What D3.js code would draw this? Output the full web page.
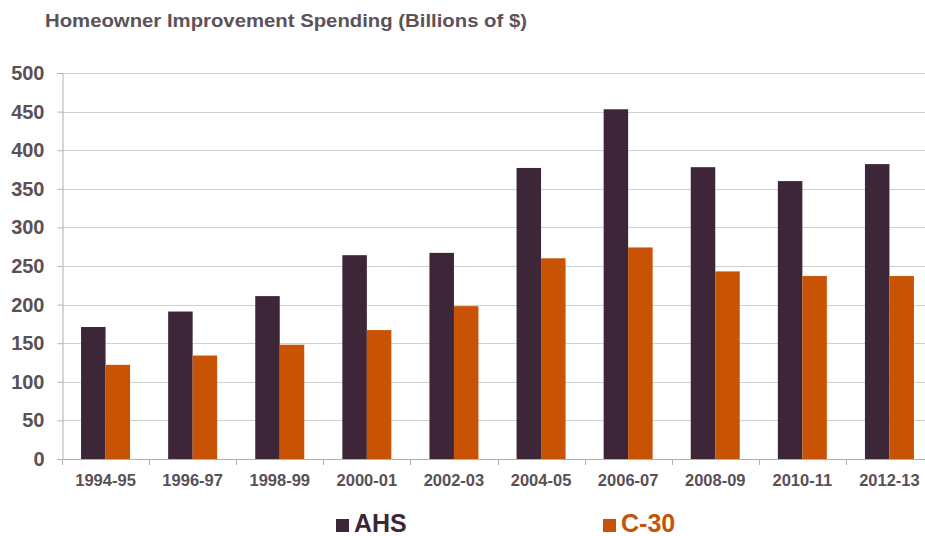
<!DOCTYPE html>
<html>
<head>
<meta charset="utf-8">
<script src="https://cdn.jsdelivr.net/npm/d3@7"></script>
<style>
	body { margin: 0; background: #fff; }
	text { font-family: "Liberation Sans", Arial, sans-serif; font-weight: bold; }
</style>
</head>
<body>
<svg class="chart"></svg>
<script>
var periods = ["1994-95", "1996-97", "1998-99", "2000-01", "2002-03", "2004-05", "2006-07", "2008-09", "2010-11", "2012-13"]
var ahs = [171, 191, 211, 264, 267, 377, 453, 378, 360, 382]
var c30 = [122, 134, 148, 167, 198, 260, 274, 243, 237, 237]
var yTicks = [0, 50, 100, 150, 200, 250, 300, 350, 400, 450, 500]
var seriesNames = ["AHS", "C-30"]
var seriesColors = ["#3e2639", "#c85305"]

var width = 925
var height = 536
var plotLeft = 62
var plotTop = 73
var plotBottom = 459

var svg = d3.select(".chart").attr("width", width).attr("height", height)

var data = periods.map(function (p, i) {
	return { period: p, values: [ahs[i], c30[i]] }
})

var xScale = d3.scaleBand().domain(periods).range([plotLeft, plotLeft + 871]).padding(0)
var bw = xScale.bandwidth()
var xInner = d3.scaleBand().domain(seriesNames).range([bw / 2 - 24.5, bw / 2 + 24.5]).padding(0)
var yScale = d3.scaleLinear().domain([0, 500]).range([plotBottom, plotTop])

// title
svg.append("text")
	.attr("x", 45)
	.attr("y", 27)
	.attr("font-size", 18)
	.attr("fill", "#5c5359")
	.attr("textLength", 482)
	.attr("lengthAdjust", "spacingAndGlyphs")
	.text("Homeowner Improvement Spending (Billions of $)")

// gridlines
svg.append("g")
	.selectAll("line")
	.data(yTicks.filter(d => d > 0))
	.enter()
	.append("line")
	.attr("x1", plotLeft)
	.attr("x2", width)
	.attr("y1", d => Math.round(yScale(d)) + 0.5)
	.attr("y2", d => Math.round(yScale(d)) + 0.5)
	.attr("stroke", "#d0d0d0")
	.attr("stroke-width", 1.2)

// y axis
var yAxis = svg.append("g")
	.attr("transform", "translate(" + (plotLeft + 0.5) + ",0)")
	.call(d3.axisLeft(yScale).tickValues(yTicks).tickSize(5).tickPadding(13))
yAxis.select(".domain").attr("stroke", "#b0b0b0")
yAxis.selectAll(".tick line").attr("stroke", "#b0b0b0")
yAxis.selectAll(".tick text")
	.attr("font-size", 20)
	.attr("fill", "#5a5056")
	.attr("font-family", "Liberation Sans, Arial, sans-serif")
	.attr("font-weight", "bold")

// bars
var groups = svg.append("g")
	.selectAll("g")
	.data(data)
	.enter()
	.append("g")
	.attr("transform", d => "translate(" + xScale(d.period) + ",0)")

groups.selectAll("rect")
	.data(d => d.values.map((v, i) => ({ name: seriesNames[i], value: v, color: seriesColors[i] })))
	.enter()
	.append("rect")
	.attr("x", d => xInner(d.name))
	.attr("width", xInner.bandwidth())
	.attr("y", d => yScale(d.value))
	.attr("height", d => plotBottom - yScale(d.value))
	.attr("fill", d => d.color)

// x axis
svg.append("line")
	.attr("x1", plotLeft)
	.attr("x2", width)
	.attr("y1", plotBottom + 0.5)
	.attr("y2", plotBottom + 0.5)
	.attr("stroke", "#b0b0b0")
	.attr("stroke-width", 1.2)

svg.append("g")
	.selectAll("line")
	.data(periods.map(p => xScale(p)))
	.enter()
	.append("line")
	.attr("x1", d => Math.round(d) + 0.5)
	.attr("x2", d => Math.round(d) + 0.5)
	.attr("y1", plotBottom)
	.attr("y2", plotBottom + 6)
	.attr("stroke", "#b0b0b0")

svg.append("g")
	.selectAll("text")
	.data(periods)
	.enter()
	.append("text")
	.attr("x", d => xScale(d) + bw / 2)
	.attr("y", 486)
	.attr("text-anchor", "middle")
	.attr("font-size", 16.5)
	.attr("fill", "#5a5056")
	.text(d => d)

// legend
var legendX = [336, 603]
var legend = svg.append("g")
	.selectAll("g")
	.data(seriesNames)
	.enter()
	.append("g")
	.attr("transform", (d, i) => "translate(" + legendX[i] + ",0)")

legend.append("rect")
	.attr("x", 0)
	.attr("y", 519)
	.attr("width", 13)
	.attr("height", 13)
	.attr("fill", (d, i) => seriesColors[i])

legend.append("text")
	.attr("x", 18)
	.attr("y", 532)
	.attr("font-size", 25)
	.attr("fill", (d, i) => seriesColors[i])
	.text(d => d)
</script>
</body>
</html>
